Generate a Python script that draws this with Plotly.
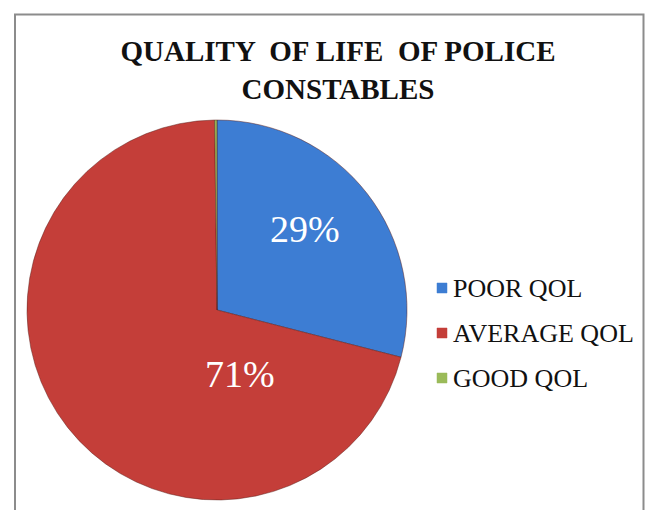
import plotly.graph_objects as go

# Data
categories = ["POOR QOL", "AVERAGE QOL", "GOOD QOL"]
values = [29.0, 70.8, 0.2]
colors = ["#3d7dd3", "#c43e39", "#9bbb59"]
title_text = "<b>QUALITY  OF LIFE  OF POLICE<br>CONSTABLES</b>"

W, H = 646, 510

def px(x):
    return x / W

def py(y):
    return 1 - y / H

fig = go.Figure()
fig.add_trace(go.Pie(
    labels=categories,
    values=values,
    sort=False,
    direction="clockwise",
    rotation=0,
    marker=dict(colors=colors, line=dict(color="rgba(90,30,25,0.6)", width=0.8)),
    textinfo="none",
    showlegend=False,
    domain=dict(x=[px(27), px(407)], y=[py(500), py(120)]),
))

total = sum(values)
pct = [f"{round(v / total * 100)}%" for v in values]

annotations = []
# percentage labels (first two slices)
label_pos = [(305, 229), (240, 374)]
for i, (x, y) in enumerate(label_pos):
    annotations.append(dict(
        x=px(x), y=py(y), xref="paper", yref="paper", text=pct[i],
        showarrow=False, xanchor="center", yanchor="middle",
        font=dict(family="Liberation Serif", size=38, color="white")))

# legend
shapes = []
leg_y = [288, 333, 378]
for i, cat in enumerate(categories):
    y = leg_y[i]
    shapes.append(dict(type="rect", xref="paper", yref="paper",
                       x0=px(437), x1=px(447), y0=py(y + 5), y1=py(y - 5),
                       fillcolor=colors[i], line=dict(color=colors[i], width=0.5)))
    annotations.append(dict(
        x=px(451), y=py(y), xref="paper", yref="paper", text=cat,
        showarrow=False, xanchor="left", yanchor="middle",
        font=dict(family="Liberation Serif", size=26, color="#111111")))

# chart frame
shapes.append(dict(type="rect", xref="paper", yref="paper",
                   x0=px(15), x1=px(643.5), y0=-0.05, y1=py(14.5),
                   line=dict(color="#8c8c8c", width=2), fillcolor="rgba(0,0,0,0)",
                   layer="below"))

fig.update_layout(
    width=W, height=H,
    margin=dict(l=0, r=0, t=0, b=0),
    paper_bgcolor="white",
    plot_bgcolor="white",
    title=dict(text=title_text, x=px(338), y=py(61), xanchor="center", yanchor="middle",
               font=dict(family="Liberation Serif", size=29, color="#111111")),
    annotations=annotations,
    shapes=shapes,
)

fig.write_html("out.html")
